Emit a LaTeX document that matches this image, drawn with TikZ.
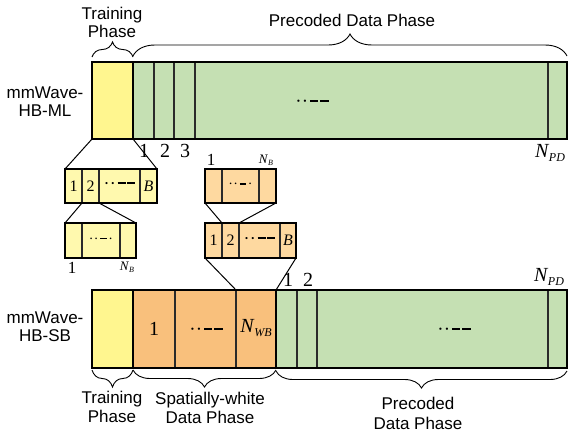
\documentclass[tikz,border=0pt]{standalone}
\usepackage{fontspec}
\setmainfont{Liberation Sans}
\newfontfamily\nf{Liberation Serif}
\usetikzlibrary{decorations.pathreplacing}
\definecolor{ybig}{HTML}{FFF68F}
\definecolor{ysmall}{HTML}{FFF9AE}
\definecolor{gcell}{HTML}{C5E0B3}
\definecolor{obig}{HTML}{F9C07C}
\definecolor{osmall}{HTML}{FED9A0}
\definecolor{divc}{HTML}{2A2A2A}
\newcommand{\cell}[6]{\node[cellbase,#6, minimum width={(#4-#2)*1pt}, minimum height={(#5-#3)*1pt}] (#1) at ({(#2+#4)/2},{(#3+#5)/2}) {};}
\newcommand{\nsub}[3]{{\nf\fontsize{#1}{#1}\selectfont\itshape N\kern0.5pt\raisebox{-0.35ex}{\fontsize{#2}{#2}\selectfont #3}}}
\newcommand{\dsh}{\rule[0.29em]{0.44em}{0.1em}}
\newcommand{\dotsA}{·\kern0.3pt·\kern1.8pt\dsh\kern1.8pt\dsh}
\newcommand{\dotsB}{·\kern0.3pt·\kern1.8pt\dsh\kern1.8pt·}
\tikzset{
  cellbase/.style={rectangle, draw=divc, line width=1.1pt, inner sep=0pt, outer sep=0pt},
  frame/.style={rectangle, draw=black, line width=1.8pt, inner sep=0pt, outer sep=0pt},
  sframe/.style={rectangle, draw=black, line width=1.2pt, inner sep=0pt, outer sep=0pt},
  zoomline/.style={draw=black, line width=1pt},
  brace/.style={draw=black, line width=0.9pt, decorate, decoration={brace, amplitude=#1}},
  lbl/.style={font=\fontsize{17}{18}\selectfont, align=center, inner sep=0pt},
  num/.style={font=\nf\fontsize{20}{20}\selectfont, inner sep=0pt},
  snum/.style={font=\nf\fontsize{16}{16}\selectfont, inner sep=0pt},
  dotsbig/.style={font=\nf\fontsize{19}{19}\selectfont, inner sep=0pt},
  dotssmall/.style={font=\nf\fontsize{18}{18}\selectfont, inner sep=0pt},
  dotstiny/.style={font=\nf\fontsize{14}{14}\selectfont, inner sep=0pt},
}
\begin{document}
\begin{tikzpicture}[x=1pt,y=-1pt]
\useasboundingbox (0,0) rectangle (568,434);
% ---------- top row ----------
\cell{trA}{92}{62}{133}{139}{fill=ybig}
\cell{g1}{133}{62}{154}{139}{fill=gcell}
\cell{g2}{154}{62}{174}{139}{fill=gcell}
\cell{g3}{174}{62}{195}{139}{fill=gcell}
\cell{gm}{195}{62}{548}{139}{fill=gcell}
\cell{gN}{548}{62}{567}{139}{fill=gcell}
\cell{trAf}{92}{62}{133}{139}{frame}
\cell{gAf}{133}{62}{567}{139}{frame}
\node[dotsbig] (dA) at (312,104) {\dotsA};
\node[num] (n1) at (144,151) {1};
\node[num] (n2) at (165,151) {2};
\node[num] (n3) at (185,151) {3};
\node[inner sep=0pt] (nPDa) at (550,153) {\nsub{20}{12}{PD}};
% ---------- small yellow blocks ----------
\cell{ya1}{65}{169}{82}{203}{fill=ysmall}
\cell{ya2}{82}{169}{99}{203}{fill=ysmall}
\cell{ya3}{99}{169}{140}{203}{fill=ysmall}
\cell{ya4}{140}{169}{157}{203}{fill=ysmall}
\cell{yaf}{65}{169}{157}{203}{sframe}
\node[snum] at (ya1) {1};
\node[snum] at (ya2) {2};
\node[dotssmall] (dya) at (ya3) {\dotsA};
\node[snum,font=\nf\fontsize{16}{16}\selectfont\itshape] at (ya4) {B};
\cell{yb1}{65}{223}{82}{258}{fill=ysmall}
\cell{yb2}{82}{223}{120}{258}{fill=ysmall}
\cell{yb3}{120}{223}{136}{258}{fill=ysmall}
\cell{ybf}{65}{223}{136}{258}{sframe}
\node[dotstiny] (dyb) at (yb2) {\dotsB};
\node[snum,font=\nf\fontsize{17}{17}\selectfont] (yb1l) at (72,268) {1};
\node[inner sep=0pt] (ybNl) at (127,267) {\nsub{13}{8}{B}};
% ---------- small orange blocks ----------
\cell{oa1}{205}{169}{222}{203}{fill=osmall}
\cell{oa2}{222}{169}{259}{203}{fill=osmall}
\cell{oa3}{259}{169}{276}{203}{fill=osmall}
\cell{oaf}{205}{169}{276}{203}{sframe}
\node[dotstiny] (doa) at (oa2) {\dotsB};
\node[snum,font=\nf\fontsize{17}{17}\selectfont] (oa1l) at (211,160) {1};
\node[inner sep=0pt] (oaNl) at (266,160) {\nsub{13}{8}{B}};
\cell{ob1}{205}{223}{222}{258}{fill=osmall}
\cell{ob2}{222}{223}{239}{258}{fill=osmall}
\cell{ob3}{239}{223}{280}{258}{fill=osmall}
\cell{ob4}{280}{223}{296}{258}{fill=osmall}
\cell{obf}{205}{223}{296}{258}{sframe}
\node[snum] at (ob1) {1};
\node[snum] at (ob2) {2};
\node[dotssmall] (dob) at (ob3) {\dotsA};
\node[snum,font=\nf\fontsize{16}{16}\selectfont\itshape] at (ob4) {B};
% ---------- bottom row ----------
\cell{trB}{92}{290}{133}{368}{fill=ybig}
\cell{o1}{133}{290}{175}{368}{fill=obig}
\cell{om}{175}{290}{236}{368}{fill=obig}
\cell{oN}{236}{290}{276}{368}{fill=obig}
\cell{h1}{276}{290}{297}{368}{fill=gcell}
\cell{h2}{297}{290}{317}{368}{fill=gcell}
\cell{hm}{317}{290}{548}{368}{fill=gcell}
\cell{hN}{548}{290}{567}{368}{fill=gcell}
\cell{trBf}{92}{290}{133}{368}{frame}
\cell{oBf}{133}{290}{276}{368}{frame}
\cell{gBf}{276}{290}{567}{368}{frame}
\node[num] at (o1) {1};
\node[dotsbig] (dom) at (206,332) {\dotsA};
\node[inner sep=0pt] (oNl) at (256,328) {\nsub{20}{12}{WB}};
\node[dotsbig] (dhm) at (454,332) {\dotsA};
\node[num] (m1) at (288,280) {1};
\node[num] (m2) at (308,280) {2};
\node[inner sep=0pt] (nPDb) at (549,277) {\nsub{20}{12}{PD}};
% ---------- zoom connectors ----------
\draw[zoomline] (trAf.south west) -- (yaf.north west);
\draw[zoomline] (trAf.south east) -- (yaf.north east);
\draw[zoomline] (ya2.south west) -- (ybf.north west);
\draw[zoomline] (ya2.south east) -- (ybf.north east);
\draw[zoomline] (oaf.south west) -- (ob2.north west);
\draw[zoomline] (oaf.south east) -- (ob2.north east);
\draw[zoomline] (obf.south west) -- (oN.north west);
\draw[zoomline] (obf.south east) -- (oN.north east);
% ---------- braces and labels ----------
\coordinate (bt1a) at (92,57); \coordinate (bt1b) at (133,57);
\coordinate (bt2a) at (133,56); \coordinate (bt2b) at (567,56);
\draw[brace=15pt] (bt1a) -- (bt1b);
\draw[brace=22pt] (bt2a) -- (bt2b);
\node[lbl] (tTA) at (112,22) {Training\\Phase};
\node[lbl] (tPA) at (352,20) {Precoded Data Phase};
\coordinate (bb1a) at (133,370); \coordinate (bb1b) at (92,370);
\coordinate (bb2a) at (276,370); \coordinate (bb2b) at (133,370);
\coordinate (bb3a) at (567,371); \coordinate (bb3b) at (276,371);
\draw[brace=17pt] (bb1a) -- (bb1b);
\draw[brace=17pt] (bb2a) -- (bb2b);
\draw[brace=17pt] (bb3a) -- (bb3b);
\node[lbl,font=\fontsize{17}{19}\selectfont] (tTB) at (112,407) {Training\\Phase};
\node[lbl,font=\fontsize{17}{19}\selectfont] (tSB) at (210,408) {Spatially-white\\Data Phase};
\node[lbl,font=\fontsize{17}{20}\selectfont] (tPB) at (418,413) {Precoded\\Data Phase};
\node[lbl] (mlA) at (45,102) {mmWave-\\HB-ML};
\node[lbl] (mlB) at (45,327) {mmWave-\\HB-SB};
\end{tikzpicture}
\end{document}
